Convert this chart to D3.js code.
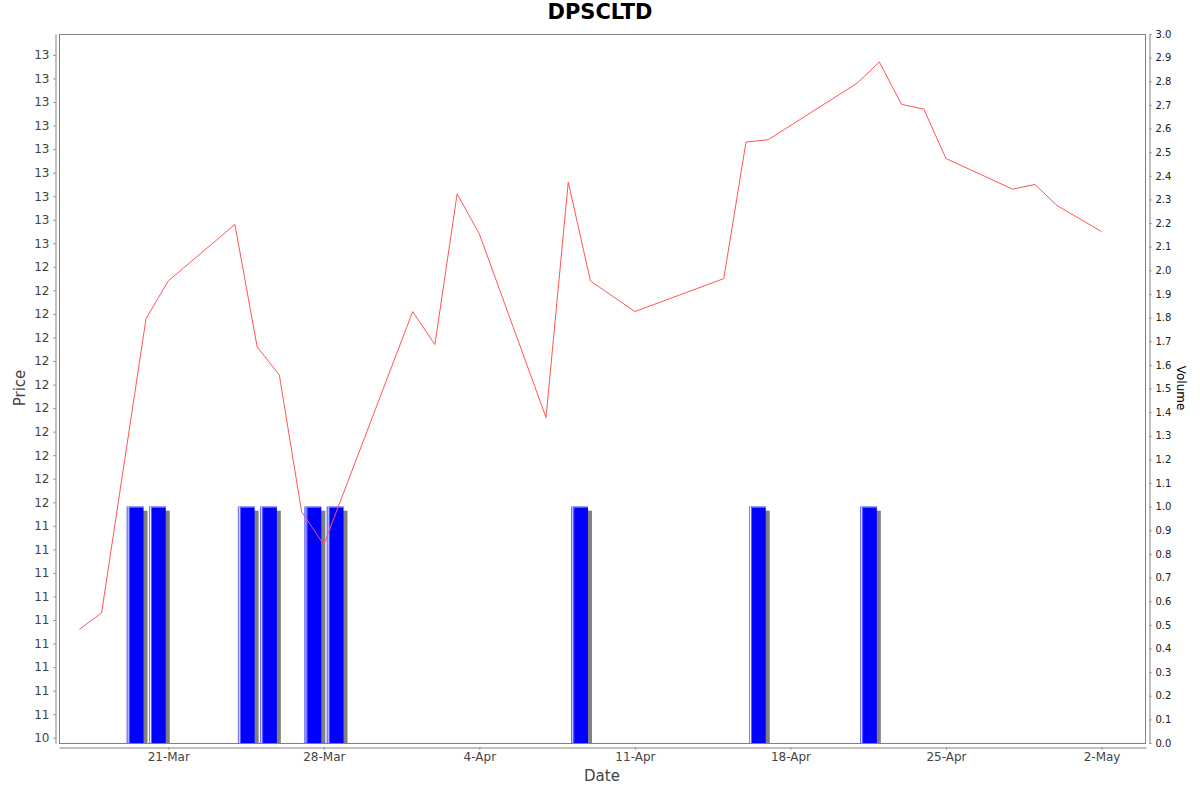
<!DOCTYPE html>
<html>
<head>
<meta charset="utf-8">
<script src="https://cdn.jsdelivr.net/npm/d3@7"></script>
<style>
  body { margin: 0; background: #fff; }
  text { font-family: "DejaVu Sans", sans-serif; }
</style>
</head>
<body>
<svg id="chart"></svg>
<script>
// price series (close), trading days
const priceDates = ["2025-03-17", "2025-03-18", "2025-03-20", "2025-03-21", "2025-03-24", "2025-03-25",
  "2025-03-26", "2025-03-27", "2025-03-28", "2025-04-01", "2025-04-02", "2025-04-03", "2025-04-04",
  "2025-04-07", "2025-04-08", "2025-04-09", "2025-04-11", "2025-04-15", "2025-04-16", "2025-04-17",
  "2025-04-21", "2025-04-22", "2025-04-23", "2025-04-24", "2025-04-25", "2025-04-28", "2025-04-29",
  "2025-04-30", "2025-05-02"];
const prices = [10.96, 11.03, 12.28, 12.44, 12.68, 12.16, 12.04, 11.46, 11.32, 12.31, 12.17, 12.81, 12.64,
  11.86, 12.86, 12.44, 12.31, 12.45, 13.03, 13.04, 13.28, 13.37, 13.19, 13.17, 12.96, 12.83, 12.85,
  12.76, 12.65];

// volume bars (each covers one day)
const volumeDates = ["2025-03-19", "2025-03-20", "2025-03-24", "2025-03-25", "2025-03-27", "2025-03-28",
  "2025-04-08", "2025-04-16", "2025-04-21"];
const volumes = [1, 1, 1, 1, 1, 1, 1, 1, 1];

// axis ticks
const dateTicks = ["2025-03-21", "2025-03-28", "2025-04-04", "2025-04-11", "2025-04-18", "2025-04-25", "2025-05-02"];
const priceTickValues = d3.range(30).map(i => 10.5 + i / 10);
const priceTickLabels = ["10", "11", "11", "11", "11", "11", "11", "11", "11", "11",
  "12", "12", "12", "12", "12", "12", "12", "12", "12", "12", "12",
  "13", "13", "13", "13", "13", "13", "13", "13", "13"];
const volumeTickValues = d3.range(31).map(i => i / 10);

const width = 1200;
const height = 792;
const plotLeft = 59, plotRight = 1146, plotTop = 34, plotBottom = 743;

const parse = d3.timeParse("%Y-%m-%d");

const svg = d3.select("#chart")
    .attr("width", width)
    .attr("height", height);

// Escalas
const x = d3.scaleTime()
    .domain([new Date(2025, 2, 16, 2), new Date(2025, 4, 4)])
    .range([plotLeft, plotRight]);

const yPrice = d3.scaleLinear()
    .domain([10.4775, 13.489])
    .range([plotBottom, plotTop]);

const yVol = d3.scaleLinear()
    .domain([0, 3])
    .range([plotBottom, plotTop]);

svg.append("defs").append("clipPath")
    .attr("id", "plot-clip")
  .append("rect")
    .attr("x", plotLeft).attr("y", plotTop)
    .attr("width", plotRight - plotLeft).attr("height", plotBottom - plotTop);

// Titulo
svg.append("text")
    .attr("x", width / 2)
    .attr("y", 19)
    .attr("text-anchor", "middle")
    .style("font-size", "21px")
    .style("font-weight", "bold")
    .style("fill", "#000")
    .text("DPSCLTD");

const plot = svg.append("g").attr("clip-path", "url(#plot-clip)");

// Barras de volumen con sombra
const bars = volumeDates.map((d, i) => {
  const start = parse(d);
  const end = d3.timeDay.offset(start, 1);
  return { x0: x(start) + 3, x1: x(end) - 2.5, v: volumes[i] };
});

plot.selectAll(".shadow")
  .data(bars)
  .join("rect")
    .attr("class", "shadow")
    .attr("x", d => d.x0 + 4)
    .attr("y", d => yVol(d.v) + 4)
    .attr("width", d => d.x1 - d.x0)
    .attr("height", d => plotBottom - yVol(d.v))
    .attr("fill", "#808080");

plot.selectAll(".bar")
  .data(bars)
  .join("rect")
    .attr("class", "bar")
    .attr("x", d => d.x0)
    .attr("y", d => yVol(d.v))
    .attr("width", d => d.x1 - d.x0)
    .attr("height", d => plotBottom - yVol(d.v))
    .attr("fill", "#0000ff");

// brillo del borde izquierdo y superior
plot.selectAll(".hl1")
  .data(bars)
  .join("rect")
    .attr("class", "hl1")
    .attr("x", d => d.x0)
    .attr("y", d => yVol(d.v))
    .attr("width", 1)
    .attr("height", d => plotBottom - yVol(d.v))
    .attr("fill", "#7f7fff");

plot.selectAll(".hl2")
  .data(bars)
  .join("rect")
    .attr("class", "hl2")
    .attr("x", d => d.x0 + 1)
    .attr("y", d => yVol(d.v))
    .attr("width", 1)
    .attr("height", d => plotBottom - yVol(d.v))
    .attr("fill", "#f0f0ff");

plot.selectAll(".hl3")
  .data(bars)
  .join("rect")
    .attr("class", "hl3")
    .attr("x", d => d.x0 + 2)
    .attr("y", d => yVol(d.v))
    .attr("width", 1)
    .attr("height", d => plotBottom - yVol(d.v))
    .attr("fill", "#6060ff");

plot.selectAll(".hltop")
  .data(bars)
  .join("rect")
    .attr("class", "hltop")
    .attr("x", d => d.x0 + 2)
    .attr("y", d => yVol(d.v))
    .attr("width", d => d.x1 - d.x0 - 2)
    .attr("height", 1)
    .attr("fill", "#8080ff");

// Linea de precio
const line = d3.line()
    .x((d, i) => x(parse(priceDates[i])))
    .y(d => yPrice(d));

plot.append("path")
    .datum(prices)
    .attr("fill", "none")
    .attr("stroke", "#ff5555")
    .attr("stroke-width", 1)
    .attr("d", line);

// Borde del area
svg.append("rect")
    .attr("x", plotLeft + 0.5).attr("y", plotTop + 0.5)
    .attr("width", plotRight - plotLeft - 1).attr("height", plotBottom - plotTop)
    .attr("fill", "none")
    .attr("stroke", "#808080");

function styleAxis(g, color, size) {
  g.select(".domain").attr("stroke", "#808080");
  g.selectAll(".tick line").attr("stroke", "#808080");
  g.selectAll(".tick text")
      .style("font-family", "DejaVu Sans")
      .style("font-size", size)
      .attr("fill", color);
}

// Eje izquierdo (precio)
svg.append("g")
    .attr("transform", "translate(55.5,0)")
    .call(d3.axisLeft(yPrice)
        .tickValues(priceTickValues)
        .tickFormat((d, i) => priceTickLabels[i])
        .tickSize(2)
        .tickSizeOuter(0)
        .tickPadding(4))
    .call(g => styleAxis(g, "#444", "12px"));

// Eje derecho (volumen)
svg.append("g")
    .attr("transform", "translate(1149.5,0)")
    .call(d3.axisRight(yVol)
        .tickValues(volumeTickValues)
        .tickFormat(d3.format(".1f"))
        .tickSize(2)
        .tickSizeOuter(0)
        .tickPadding(4))
    .call(g => styleAxis(g, "#222", "10px"));

// Eje de fechas
svg.append("g")
    .attr("transform", "translate(0,747.5)")
    .call(d3.axisBottom(x)
        .tickValues(dateTicks.map(parse))
        .tickFormat(d3.timeFormat("%-d-%b"))
        .tickSize(2)
        .tickSizeOuter(0)
        .tickPadding(3))
    .call(g => styleAxis(g, "#444", "12px"));

// Etiquetas de ejes
svg.append("text")
    .attr("x", 602)
    .attr("y", 781)
    .attr("text-anchor", "middle")
    .style("font-size", "15px")
    .style("fill", "#444")
    .text("Date");

svg.append("text")
    .attr("transform", "translate(25,388) rotate(-90)")
    .attr("text-anchor", "middle")
    .style("font-size", "15px")
    .style("fill", "#444")
    .text("Price");

svg.append("text")
    .attr("transform", "translate(1177,388) rotate(90)")
    .attr("text-anchor", "middle")
    .style("font-size", "12px")
    .style("fill", "#000")
    .text("Volume");
</script>
</body>
</html>
